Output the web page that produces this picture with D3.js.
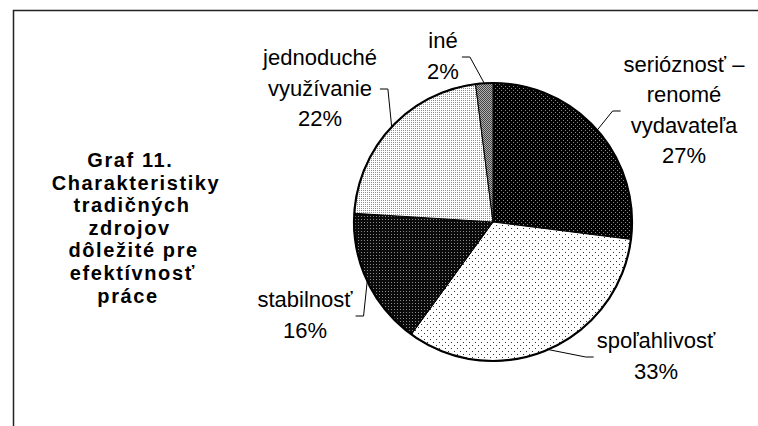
<!DOCTYPE html>
<html>
<head>
<meta charset="utf-8">
<script src="https://cdn.jsdelivr.net/npm/d3@7"></script>
<style>
  body { margin: 0; background: #fff; }
  svg { display: block; }
  .lbl { font-family: "Liberation Sans", Arial, sans-serif; font-size: 22px; fill: #000; }
  .title { font-family: "Liberation Sans", Arial, sans-serif; font-size: 20px; font-weight: bold; fill: #000; }
</style>
</head>
<body>
<svg id="chart" width="758" height="426"></svg>
<script>
// slice names (multi-line) and shares in percent, clockwise from 12 o'clock
const categories = [
    ["serióznosť –", "renomé", "vydavateľa"],
    ["spoľahlivosť"],
    ["stabilnosť"],
    ["jednoduché", "využívanie"],
    ["iné"]
];
const values = [27, 33, 16, 22, 2];
const titleLines = ["Graf 11.", "Charakteristiky", "tradičných", "zdrojov", "dôležité pre", "efektívnosť", "práce"];

// layout: label block centres and leader side for every slice
const labelLayout = [
    { x: 684, y: 110, side: "left" },
    { x: 656, y: 356, side: "left" },
    { x: 305, y: 315, side: "right" },
    { x: 320, y: 88, side: "right" },
    { x: 443, y: 56, side: "right" }
];
const fills = ["url(#pSer)", "url(#pSpo)", "url(#pSta)", "url(#pJed)", "url(#pIne)"];

const svg = d3.select('#chart');
const cx = 493, cy = 222, radius = 139, lineH = 30.5;

// fill patterns (dotted like the original print)
const defs = svg.append('defs');
function pattern(id, w, h, bg, dots, dotColor) {
    const p = defs.append('pattern').attr('id', id)
        .attr('patternUnits', 'userSpaceOnUse').attr('width', w).attr('height', h);
    p.append('rect').attr('width', w).attr('height', h).attr('fill', bg);
    dots.forEach(function (d) {
        p.append('rect').attr('x', d[0]).attr('y', d[1]).attr('width', 1).attr('height', 1).attr('fill', dotColor);
    });
}
pattern('pSer', 4, 4, '#000', [[0, 0], [2, 2]], '#8a8a8a');
pattern('pSpo', 6, 6, '#fff', [[0, 0], [3, 3]], '#333');
pattern('pSta', 3, 3, '#0a0a0a', [[0, 0]], '#8a8a8a');
pattern('pJed', 2, 2, '#fff', [[0, 0]], '#8c8c8c');
pattern('pIne', 2, 2, '#444', [[0, 0], [1, 1]], '#b0b0b0');

// frame (only left and top edges are visible in the crop)
svg.append('path')
    .attr('d', 'M13.5,426V10.5H758')
    .attr('fill', 'none').attr('stroke', '#222').attr('stroke-width', 1.5);

// title: laid out as centred plain text, then drawn with wider tracking
// (the old renderer spreads the letters to the right)
const title = svg.append('text').attr('class', 'title');
titleLines.forEach(function (t, i) {
    const ts = title.append('tspan').attr('y', 167 + i * 22.6).text(t);
    const w0 = ts.node().getComputedTextLength();
    ts.attr('x', 124 - w0 / 2).style('letter-spacing', '1.6px');
});

// pie
const pie = d3.pie().sort(null).value(d => d);
const arcs = pie(values);
const arc = d3.arc().innerRadius(0).outerRadius(radius);

const g = svg.append('g').attr('transform', 'translate(' + cx + ',' + cy + ')');
g.selectAll('path.slice')
    .data(arcs).enter().append('path')
    .attr('class', 'slice')
    .attr('d', arc)
    .attr('fill', (d, i) => fills[i])
    .attr('stroke', '#000').attr('stroke-width', 1);

g.append('circle').attr('r', radius)
    .attr('fill', 'none').attr('stroke', '#000').attr('stroke-width', 2.2);

// labels with leader lines
arcs.forEach(function (d, i) {
    const lay = labelLayout[i];
    const lines = categories[i].concat([values[i] + '%']);
    const top = lay.y - (lines.length - 1) * lineH / 2;
    const txt = svg.append('text').attr('class', 'lbl').attr('text-anchor', 'middle');
    lines.forEach(function (l, k) {
        txt.append('tspan').attr('x', lay.x).attr('y', top + k * lineH + 7.5).text(l);
    });
    const w = d3.max(txt.selectAll('tspan').nodes(), n => n.getComputedTextLength());

    const mid = (d.startAngle + d.endAngle) / 2;
    const px = cx + Math.sin(mid) * radius, py = cy - Math.cos(mid) * radius;
    const dir = lay.side === 'left' ? -1 : 1;
    const x0 = lay.x + dir * (w / 2 + 3);
    const x1 = x0 + dir * 8;
    svg.append('path')
        .attr('d', d3.line()([[x0, lay.y + 1], [x1, lay.y + 1], [px, py]]))
        .attr('fill', 'none').attr('stroke', '#000').attr('stroke-width', 1);
});
</script>
</body>
</html>
